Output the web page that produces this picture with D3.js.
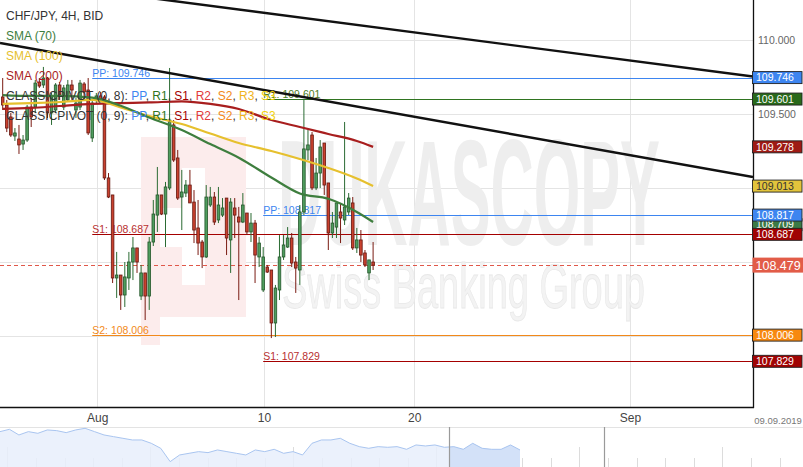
<!DOCTYPE html>
<html><head><meta charset="utf-8">
<script src="https://cdn.jsdelivr.net/npm/d3@7"></script>
<style>body{margin:0;background:#fff;}svg{display:block;font-family:"Liberation Sans",Arial,sans-serif;}</style>
</head><body><svg id="c" width="803" height="467"></svg>
<script>
// ---------- DATA ----------
// 4H candles [open, high, low, close]
const ohlc = [
[109.615,109.743,109.527,109.561],[109.561,109.595,109.378,109.405],[109.480,109.507,109.345,109.358],[109.351,109.405,109.318,109.372],
[109.331,109.426,109.230,109.291],[109.297,109.358,109.257,109.324],[109.324,109.561,109.311,109.547],[109.547,109.608,109.412,109.480],
[109.547,109.730,109.507,109.709],[109.716,109.743,109.676,109.689],[109.696,109.818,109.676,109.743],[109.743,109.750,109.473,109.507],
[109.507,109.642,109.426,109.615],[109.527,109.709,109.507,109.696],[109.696,109.716,109.595,109.628],[109.547,109.696,109.527,109.676],
[109.595,109.730,109.581,109.696],[109.696,109.730,109.595,109.662],[109.527,109.608,109.473,109.574],[109.547,109.730,109.527,109.709],
[109.703,109.716,109.595,109.649],[109.662,109.743,109.358,109.372],[109.338,109.588,109.311,109.574],[109.595,109.642,109.568,109.622],
[109.622,109.649,109.581,109.601],[109.615,109.628,109.054,109.068],[109.068,109.101,108.932,108.939],[108.953,108.953,108.358,108.392],
[108.392,108.568,108.257,108.412],[108.412,108.412,108.176,108.277],[108.277,108.500,108.196,108.399],[108.392,108.568,108.311,108.500],
[108.500,108.669,108.378,108.595],[108.595,108.595,108.426,108.500],[108.270,108.480,108.243,108.426],[108.426,108.426,108.108,108.270],
[108.270,108.669,108.176,108.635],[108.635,108.919,108.608,108.824],[108.817,109.142,108.703,108.953],[108.953,108.953,108.817,108.824],
[108.824,109.041,108.601,109.007],[109.000,109.811,108.986,109.459],[109.426,109.459,109.176,109.189],[109.203,109.257,108.919,108.932],
[108.939,109.122,108.716,108.973],[108.966,109.054,108.939,109.020],[109.020,109.122,108.899,108.899],[108.905,108.986,108.628,108.716],
[108.730,108.919,108.547,108.628],[108.635,108.649,108.459,108.534],[108.534,109.020,108.527,108.939],[108.885,109.007,108.872,108.939],
[108.939,108.973,108.750,108.770],[108.784,109.007,108.763,108.885],[108.817,108.932,108.804,108.865],[108.932,108.932,108.547,108.662],
[108.649,108.932,108.426,108.905],[108.865,108.932,108.662,108.817],[108.804,108.872,108.243,108.770],[108.770,108.966,108.763,108.885],
[108.831,108.831,108.682,108.703],[108.703,108.831,108.635,108.763],[108.763,108.784,108.358,108.547],[108.534,108.669,108.466,108.628],
[108.311,108.601,108.297,108.534],[108.466,108.480,108.426,108.432],[108.446,108.446,107.986,108.088],[108.088,108.345,107.993,108.324],
[108.311,108.682,108.243,108.534],[108.534,108.682,108.514,108.615],[108.601,108.736,108.595,108.662],[108.662,108.696,108.466,108.493],
[108.500,108.534,108.291,108.459],[108.446,108.885,108.345,108.838],[108.838,109.601,108.817,109.264],[109.257,109.392,109.189,109.291],
[109.358,109.378,108.986,109.000],[109.000,109.203,108.986,109.101],[109.101,109.324,109.000,109.277],[109.304,109.304,108.953,109.020],
[109.034,109.034,108.581,108.696],[108.696,108.838,108.662,108.763],[108.736,108.899,108.662,108.899],[108.838,108.899,108.628,108.797],
[108.784,109.446,108.750,108.872],[108.838,108.966,108.817,108.932],[108.899,108.939,108.581,108.595],[108.595,108.730,108.561,108.649],
[108.649,108.716,108.500,108.547],[108.561,108.581,108.466,108.480],[108.426,108.514,108.378,108.514],[108.500,108.635,108.446,108.479]
];
// moving averages sampled at candle indices
const smaIdx = [0, 7, 14, 22, 29, 36, 44, 51, 58, 66, 73, 80, 87, 91];
const sma70  = [109.628,109.622,109.622,109.611,109.556,109.476,109.392,109.297,109.205,109.071,108.963,108.927,108.838,108.770];
const sma100 = [109.568,109.574,109.581,109.595,109.544,109.486,109.432,109.368,109.304,109.250,109.196,109.135,109.064,109.013];
const sma200 = [109.534,109.541,109.554,109.568,109.574,109.578,109.585,109.568,109.534,109.459,109.412,109.365,109.318,109.278];
const smaNames = ["SMA (70)","SMA (100)","SMA (200)"];
const smaLast = [108.709, 109.013, 109.278];
// weekly classic pivots: start candle index + levels
const pivotStarts = [22, 64];
const pivotLevelNames = [["PP","S1","S2"],["PP","R1","S1"]];
const pivotLevelValues = [[109.746,108.687,108.006],[108.817,109.601,107.829]];
const pivotLegendNames = ["PP","R1","S1","R2","S2","R3","S3"];
// trend lines [[idx, price],[idx, price]]
const trendLines = [[[73.05,110.152],[184.35,109.753]], [[-0.66,109.980],[184.35,109.074]]];
const lastPrice = 108.479;
// axes
const priceTicks = [108, 108.5, 109, 109.5, 110];
const dateTickIdx = [23.2, 64.2, 101.1, 154.1];
const dateTickLabels = ["Aug","10","20","Sep"];
const endDateLabel = "09.09.2019";
const title = "CHF/JPY, 4H, BID";
// navigator series
const navValues = [112.70,112.91,112.40,112.70,112.55,112.85,112.79,112.61,112.85,113.00,112.70,112.40,112.25,112.10,111.95,111.95,111.65,111.20,110.00,110.60,110.75,110.90,110.81,111.05,110.90,110.75,110.60,111.05,110.90,111.11,110.75,110.90,110.60,111.65,111.95,111.95,112.10,111.65,111.35,111.20,111.35,111.29,111.35,111.11,111.50,111.41,111.50,111.29,111.35,111.11,111.65,111.20,111.11,111.11,111.50,111.05];

// ---------- STYLE ----------
const PW = 753, PH = 407;
const FONT = '"Liberation Sans",Arial,sans-serif';
const pivotColor = {PP:"#3d85f0", R1:"#2f7420", S1:"#a40000", R2:"#e23a3a", S2:"#f2891a", R3:"#f0b31c", S3:"#f1d20c"};
const pivotTextColor = {PP:"#3d85f0", R1:"#4d7d24", S1:"#b83030", S2:"#f2891a"};
const smaColors = ["#3e7e3e","#e6c02e","#a81e1e"];
const smaBox = ["#3b7a45","#e2c43c","#9e1a14"];

const svg = d3.select("#c");
const x = d3.scaleLinear().domain([0, 91]).range([2.7, 373.1]);
const y = d3.scaleLinear().domain([107.5, 110.25]).range([410, 3]);

svg.append("defs").append("clipPath").attr("id","plot").append("rect")
  .attr("x",0).attr("y",0).attr("width",PW).attr("height",PH);

// grid
const grid = svg.append("g");
grid.selectAll("line.h").data(priceTicks).join("line")
  .attr("x1",0).attr("x2",PW).attr("y1",d=>Math.round(y(d))+0.5).attr("y2",d=>Math.round(y(d))+0.5)
  .attr("stroke","#e4e4e4");
grid.selectAll("line.v").data(dateTickIdx).join("line")
  .attr("y1",0).attr("y2",PH).attr("x1",d=>Math.round(x(d))+0.5).attr("x2",d=>Math.round(x(d))+0.5)
  .attr("stroke","#e4e4e4");

// watermark
const wm = svg.append("g").attr("clip-path","url(#plot)");
const pink = "#fcecec";
[[141,137,105,180],[141,317,19,28]].forEach(r=>wm.append("rect").attr("x",r[0]).attr("y",r[1]).attr("width",r[2]).attr("height",r[3]).attr("fill",pink));
[[182,168,23,117],[160,208,22,39]].forEach(r=>wm.append("rect").attr("x",r[0]).attr("y",r[1]).attr("width",r[2]).attr("height",r[3]).attr("fill","#fff"));
function squeezeText(g, str, x0, y0, size, weight, width, fill, stroke){
  const t = g.append("text").attr("font-size",size).attr("font-weight",weight).attr("fill",fill).text(str);
  if(stroke) t.attr("stroke",stroke).attr("stroke-width",0.8);
  const w = t.node().getComputedTextLength();
  t.attr("transform",`translate(${x0},${y0}) scale(${width/w},1)`);
}
squeezeText(wm,"DUKASCOPY",278,245,150,"bold",382,"#eeeeee");
squeezeText(wm,"Swiss Banking Group",282,308,63,"normal",363,"#f3f3f3","#e8e8e8");

// pivot lines
const piv = svg.append("g").attr("clip-path","url(#plot)");
pivotStarts.forEach((s,w)=>{
  pivotLevelNames[w].forEach((n,k)=>{
    const v = pivotLevelValues[w][k];
    const yy = Math.round(y(v))+0.5;
    piv.append("line").attr("x1",x(s)).attr("x2",PW).attr("y1",yy).attr("y2",yy)
      .attr("stroke",pivotColor[n]).attr("stroke-width",1.2);
    piv.append("text").attr("x",x(s)).attr("y",yy-2).attr("font-size",10.5)
      .attr("fill",pivotTextColor[n]).text(n+": "+v.toFixed(3));
  });
});

// current price dashed line
svg.append("line").attr("x1",0).attr("x2",PW).attr("y1",Math.round(y(lastPrice))+0.5).attr("y2",Math.round(y(lastPrice))+0.5)
  .attr("stroke","#e0584a").attr("stroke-dasharray","4,3");

// candles
const cg = svg.append("g").attr("clip-path","url(#plot)");
const up = d=>d[3]>=d[0];
cg.selectAll("line").data(ohlc).join("line")
  .attr("x1",(d,i)=>x(i)).attr("x2",(d,i)=>x(i)).attr("y1",d=>y(d[1])).attr("y2",d=>y(d[2]))
  .attr("stroke",d=>up(d)?"#2b6b33":"#7a1b12").attr("stroke-width",1);
cg.selectAll("rect").data(ohlc).join("rect")
  .attr("x",(d,i)=>x(i)-1.3).attr("width",2.6)
  .attr("y",d=>y(Math.max(d[0],d[3]))).attr("height",d=>Math.max(1,Math.abs(y(d[0])-y(d[3]))))
  .attr("fill",d=>up(d)?"#4f9d5e":"#c9412e").attr("stroke",d=>up(d)?"#24562a":"#651710").attr("stroke-width",0.8);

// SMAs
const line = d3.line().x((d,k)=>x(smaIdx[k])).y(d=>y(d)).curve(d3.curveMonotoneX);
[sma200, sma100, sma70].forEach((s,k)=>{
  svg.append("path").attr("d",line(s)).attr("fill","none").attr("stroke",smaColors[2-k]).attr("stroke-width",2.2);
});

// trend lines
const tg = svg.append("g").attr("clip-path","url(#plot)");
trendLines.forEach(t=>{
  const [a,b] = t;
  const slope = (b[1]-a[1])/(b[0]-a[0]);
  const i0 = x.invert(0), i1 = x.invert(PW);
  tg.append("line").attr("x1",x(i0)).attr("y1",y(a[1]+slope*(i0-a[0])))
    .attr("x2",x(i1)).attr("y2",y(a[1]+slope*(i1-a[0])))
    .attr("stroke","#111").attr("stroke-width",2.4);
});

// border
svg.append("line").attr("x1",PW+0.5).attr("x2",PW+0.5).attr("y1",0).attr("y2",PH+1).attr("stroke","#111").attr("stroke-width",1.3);
svg.append("line").attr("x1",0).attr("x2",PW+1).attr("y1",PH+0.5).attr("y2",PH+0.5).attr("stroke","#111").attr("stroke-width",1.3);

// right-side value boxes (computed first so covered axis labels can be skipped)
const boxes = [];
smaLast.forEach((v,k)=>boxes.push({v, fill:smaBox[k], text:k===1?"#333":"#fff", pr:1}));
pivotStarts.forEach((s,w)=>pivotLevelNames[w].forEach((n,k)=>boxes.push({v:pivotLevelValues[w][k], fill:n==="S1"?"#a00303":(n==="PP"?"#3d85f0":(n==="R1"?"#28691a":"#f7890f")), text:"#fff", pr:2})));
boxes.forEach(b=>b.y=y(b.v));
const hi = boxes.filter(b=>b.pr===2);
boxes.filter(b=>b.pr===1).forEach(b=>{
  const above = hi.filter(h=>h.y<=b.y).sort((p,q)=>q.y-p.y)[0];
  const below = hi.filter(h=>h.y>b.y).sort((p,q)=>p.y-q.y)[0];
  if(above && below && below.y-above.y<26 && (b.y-above.y<12 || below.y-b.y<12)) b.y=(above.y+below.y)/2;
});
const covered = v => Math.abs(y(v)-y(lastPrice))<10 || boxes.some(b=>Math.abs(b.y-y(v))<10);

// price axis
const ya = svg.append("g").attr("transform",`translate(${PW},0)`)
  .call(d3.axisRight(y).tickValues(priceTicks.filter(v=>!covered(v))).tickFormat(d3.format(".3f")).tickSize(0).tickPadding(5));
ya.select(".domain").remove();
ya.selectAll("text").attr("fill","#666").attr("font-size",10.5).attr("font-family",FONT);

// date axis
const xa = svg.append("g").attr("transform",`translate(0,${PH})`)
  .call(d3.axisBottom(x).tickValues(dateTickIdx).tickFormat((d,i)=>dateTickLabels[i]).tickSize(0).tickPadding(6));
xa.select(".domain").remove();
xa.selectAll("text").attr("fill","#444").attr("font-size",12).attr("font-family",FONT);
svg.append("text").attr("x",778).attr("y",424).attr("text-anchor","middle").attr("font-size",9.5).attr("fill","#777").text(endDateLabel);

// legend
const lg = svg.append("g").attr("font-size",12);
lg.append("text").attr("x",6).attr("y",20).attr("fill","#333").text(title);
smaNames.forEach((n,k)=>lg.append("text").attr("x",6).attr("y",40+20*k).attr("fill",smaColors[k]).text(n));
[8,9].forEach((p,k)=>{
  const t = lg.append("text").attr("x",6).attr("y",100+20*k);
  t.append("tspan").attr("fill","#333").text(`CLASSICPIVOT (0, ${p}): `);
  pivotLegendNames.forEach((n,j)=>{
    t.append("tspan").attr("fill",pivotColor[n]).text(n);
    if(j<pivotLegendNames.length-1) t.append("tspan").attr("fill","#333").text(", ");
  });
});

// draw boxes
const bg = svg.append("g");
boxes.sort((p,q)=>p.pr-q.pr).forEach(b=>{
  bg.append("rect").attr("x",752.5).attr("y",b.y-6).attr("width",49.5).attr("height",12)
    .attr("fill",b.fill).attr("stroke","#222").attr("stroke-width",0.9);
  bg.append("text").attr("x",756).attr("y",b.y).attr("dy","0.36em").attr("font-size",10.5)
    .attr("fill",b.text).text(b.v.toFixed(3));
});
bg.append("rect").attr("x",752.5).attr("y",y(lastPrice)-7.5).attr("width",50.5).attr("height",15).attr("fill","#e25c48");
bg.append("text").attr("x",755.5).attr("y",y(lastPrice)).attr("dy","0.36em").attr("font-size",12.5).attr("fill","#fff").text(lastPrice.toFixed(3));

// navigator
const NT = 427;
svg.append("line").attr("x1",0).attr("x2",803).attr("y1",NT+0.5).attr("y2",NT+0.5).attr("stroke","#e3e3e3");
const nx = d3.scaleLinear().domain([0,navValues.length-1]).range([0,520]);
const ny = d3.scaleLinear().domain([109.4,113]).range([468.3,428.3]);
const ticksNav = d3.range(0,28).map(k=>7.3+28.6*k);
svg.append("g").selectAll("line").data(ticksNav).join("line")
  .attr("x1",d=>Math.round(d)+0.5).attr("x2",d=>Math.round(d)+0.5)
  .attr("y1",(d,k)=>k%5===0?447:458).attr("y2",467).attr("stroke","#dcdcdc");
const area = d3.area().x((d,i)=>nx(i)).y0(467).y1(d=>ny(d));
const nline = d3.line().x((d,i)=>nx(i)).y(d=>ny(d));
svg.append("path").attr("d",area(navValues)).attr("fill","#e8effb").attr("fill-opacity",0.85);
svg.append("defs").append("clipPath").attr("id","sel").append("rect").attr("x",449).attr("y",NT).attr("width",71).attr("height",40);
svg.append("path").attr("d",area(navValues)).attr("fill","#d3e1f8").attr("clip-path","url(#sel)");
svg.append("path").attr("d",nline(navValues)).attr("fill","none").attr("stroke","#a9c5f0").attr("stroke-width",1);
[449,604].forEach(h=>svg.append("line").attr("x1",h+0.5).attr("x2",h+0.5).attr("y1",NT).attr("y2",467).attr("stroke","#9a9a9a").attr("stroke-width",1.2));
</script></body></html>
